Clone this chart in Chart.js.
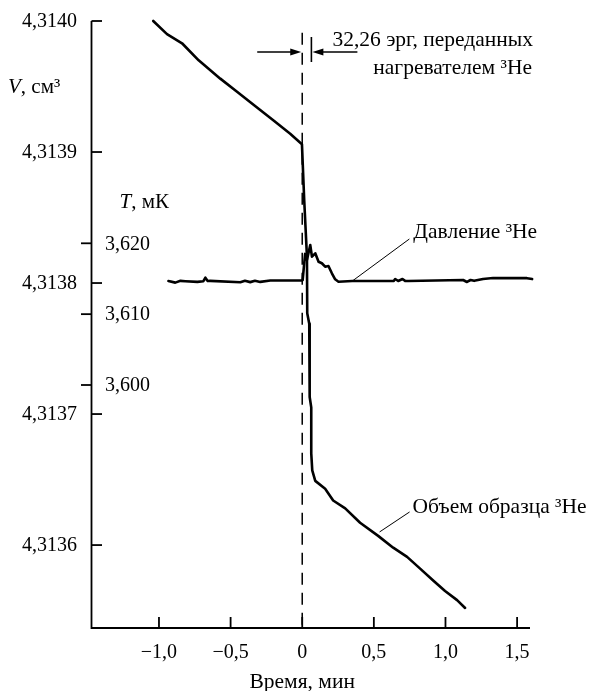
<!DOCTYPE html>
<html lang="ru">
<head>
<meta charset="utf-8">
<title>Объем образца и давление ³He</title>
<script src="https://cdn.jsdelivr.net/npm/chart.js@4.4.1/dist/chart.umd.min.js"></script>
<style>
    html, body { margin: 0; padding: 0; background: #fff; }
    #wrap { width: 599px; height: 691px; }
</style>
</head>
<body>
<div id="wrap"><canvas id="chart" width="599" height="691"></canvas></div>
<script>
/* DATA */

// sample volume, cm^3
const timeVolume = [-1.04, -0.944, -0.839, -0.723, -0.572, -0.455, -0.340, -0.200, -0.084, -0.002,
    0.014, 0.033, 0.035, 0.049, 0.052, 0.063, 0.063, 0.070, 0.091, 0.160, 0.216, 0.300,
    0.404, 0.530, 0.635, 0.732, 0.823, 0.914, 0.997, 1.081, 1.137]
const volume = [4.314000, 4.313990, 4.313983, 4.313970, 4.313956, 4.313946, 4.313936, 4.313924, 4.313914, 4.313906,
    4.313863, 4.313820, 4.313777, 4.313769, 4.313713, 4.313705, 4.313670, 4.313657, 4.313649, 4.313643, 4.313634, 4.313628,
    4.313617, 4.313607, 4.313598, 4.313591, 4.313582, 4.313573, 4.313565, 4.313558, 4.313552]

// 3He pressure, expressed as temperature, mK
const timePressure = [-0.934, -0.886, -0.85, -0.816, -0.732, -0.69, -0.676, -0.66, -0.642, -0.432, -0.40, -0.363,
    -0.33, -0.293, -0.223, -0.003, 0.003, 0.02, 0.033, 0.056, 0.068, 0.091, 0.114, 0.137, 0.160, 0.183,
    0.207, 0.230, 0.253, 0.349, 0.640, 0.649, 0.670, 0.700, 0.718, 0.740, 1.123, 1.150, 1.175, 1.20,
    1.262, 1.332, 1.569, 1.605, 1.639]
const pressureT = [3.61468, 3.61445, 3.61470, 3.61465, 3.61455, 3.61465, 3.61514, 3.61468, 3.61470, 3.61450, 3.61470, 3.61452,
    3.61470, 3.61455, 3.61475, 3.61475, 3.61480, 3.61850, 3.61764, 3.61976, 3.61811, 3.61859, 3.61740, 3.61718, 3.61670, 3.61680,
    3.61577, 3.61492, 3.61458, 3.61468, 3.61470, 3.61496, 3.61468, 3.61496, 3.61470, 3.61468, 3.61482, 3.61454, 3.61482, 3.61470,
    3.61496, 3.61510, 3.61508, 3.61495, 3.61482]

const vTicks = [4.3140, 4.3139, 4.3138, 4.3137, 4.3136]
const vTickLabels = ['4,3140', '4,3139', '4,3138', '4,3137', '4,3136']
const tTicks = [3.620, 3.610, 3.600]
const tTickLabels = ['3,620', '3,610', '3,600']
const xTicks = [-1, -0.5, 0, 0.5, 1, 1.5]
const xTickLabels = ['\u22121,0', '\u22120,5', '0', '0,5', '1,0', '1,5']

const pulse = [0, 0.064]          // heater on / off, min
const markerTop = 4.313991        // top of the dashed marker, cm^3
const pressureLabelAt = [0.35, 3.61468]
const volumeLabelAt = [0.54, 4.313610]

/* STYLE */

const INK = '#000'
const FONT = '"Liberation Serif", "Times New Roman", serif'
const WORDS = `21.5px ${FONT}`

function arrow(ctx, fromX, toX, y) {
    const dir = Math.sign(toX - fromX)
    ctx.beginPath()
    ctx.moveTo(fromX, y)
    ctx.lineTo(toX - dir * 6, y)
    ctx.stroke()
    ctx.beginPath()
    ctx.moveTo(toX, y)
    ctx.lineTo(toX - dir * 11, y - 3.5)
    ctx.lineTo(toX - dir * 11, y + 3.5)
    ctx.closePath()
    ctx.fill()
}

// draws "V, см³" style labels: italic letter + upright rest
function symbolLabel(ctx, sym, rest, x, y) {
    ctx.textAlign = 'left'
    ctx.font = `italic 21px ${FONT}`
    ctx.fillText(sym, x, y)
    const w = ctx.measureText(sym).width
    ctx.font = `21px ${FONT}`
    ctx.fillText(rest, x + w, y)
}

const paperAxes = {
    id: 'paperAxes',
    afterDraw(chart) {
        const { ctx, chartArea: a, scales } = chart
        const sx = scales.x, sv = scales.yV, st = scales.yT
        ctx.save()
        ctx.strokeStyle = INK
        ctx.fillStyle = INK
        ctx.lineCap = 'butt'

        // axis lines
        ctx.lineWidth = 1.8
        ctx.beginPath()
        ctx.moveTo(a.left, a.top)
        ctx.lineTo(a.left, a.bottom)
        ctx.lineTo(a.right, a.bottom)
        ctx.stroke()

        ctx.font = `20px ${FONT}`
        ctx.textBaseline = 'middle'

        // V ticks point inwards
        vTicks.forEach((v, i) => {
            const y = sv.getPixelForValue(v)
            ctx.beginPath()
            ctx.moveTo(a.left, y)
            ctx.lineTo(a.left + 10.5, y)
            ctx.stroke()
            ctx.textAlign = 'right'
            ctx.fillText(vTickLabels[i], 77, y + 1)
        })

        // T ticks point outwards, labels inside
        tTicks.forEach((t, i) => {
            const y = st.getPixelForValue(t)
            ctx.beginPath()
            ctx.moveTo(a.left - 10.5, y)
            ctx.lineTo(a.left, y)
            ctx.stroke()
            ctx.textAlign = 'left'
            ctx.fillText(tTickLabels[i], a.left + 13.5, y + 1)
        })

        // time ticks point up
        xTicks.forEach((t, i) => {
            const x = sx.getPixelForValue(t)
            ctx.beginPath()
            ctx.moveTo(x, a.bottom)
            ctx.lineTo(x, a.bottom - 11)
            ctx.stroke()
            ctx.textAlign = 'center'
            ctx.fillText(xTickLabels[i], x, a.bottom + 25)
        })

        // axis titles
        ctx.font = WORDS
        ctx.textAlign = 'center'
        ctx.fillText('Время, мин', sx.getPixelForValue(0), a.bottom + 54)
        symbolLabel(ctx, 'V', ', см³', 8, 87)
        symbolLabel(ctx, 'T', ', мК', a.left + 28, 202)

        // heater pulse annotation
        const x0 = sx.getPixelForValue(pulse[0])
        const x1 = sx.getPixelForValue(pulse[1])
        ctx.lineWidth = 1.6
        ctx.beginPath()
        ctx.moveTo(x1, 37)
        ctx.lineTo(x1, 62)
        ctx.stroke()
        arrow(ctx, x0 - 45, x0 - 1, 52)
        arrow(ctx, x1 + 46, x1 + 1, 52)
        ctx.textAlign = 'right'
        ctx.font = WORDS
        ctx.fillText('32,26 эрг, переданных', 533, 40)
        ctx.fillText('нагревателем ³He', 532, 68)

        // curve labels with leader lines
        ctx.lineWidth = 1
        const px = sx.getPixelForValue(pressureLabelAt[0])
        const py = st.getPixelForValue(pressureLabelAt[1])
        ctx.beginPath()
        ctx.moveTo(px, py)
        ctx.lineTo(px + 57, py - 42)
        ctx.stroke()
        ctx.textAlign = 'left'
        ctx.fillText('Давление ³He', px + 61, py - 49)

        const vx = sx.getPixelForValue(volumeLabelAt[0])
        const vy = sv.getPixelForValue(volumeLabelAt[1])
        ctx.beginPath()
        ctx.moveTo(vx, vy)
        ctx.lineTo(vx + 30, vy - 20)
        ctx.stroke()
        ctx.fillText('Объем образца ³He', vx + 33, vy - 25)

        ctx.restore()
    }
}

function series(xs, ys) {
    return xs.map((x, i) => ({ x, y: ys[i] }))
}

const lineStyle = {
    borderColor: INK,
    borderWidth: 2.6,
    pointRadius: 0,
    tension: 0,
    borderJoinStyle: 'round',
    borderCapStyle: 'round',
    clip: false
}

new Chart(document.getElementById('chart'), {
    type: 'line',
    data: {
        datasets: [
            { ...lineStyle, label: 'Объем образца ³He', yAxisID: 'yV', data: series(timeVolume, volume) },
            { ...lineStyle, label: 'Давление ³He', yAxisID: 'yT', data: series(timePressure, pressureT) },
            {
                ...lineStyle,
                label: 'импульс нагрева',
                yAxisID: 'yV',
                borderWidth: 1.5,
                borderCapStyle: 'butt',
                borderDash: [12, 8],
                data: [{ x: pulse[0], y: markerTop }, { x: pulse[0], y: 4.3135367 }]
            }
        ]
    },
    options: {
        responsive: false,
        animation: false,
        devicePixelRatio: 1,
        layout: { padding: { left: 91.5, right: 69, top: 21, bottom: 63 } },
        plugins: { legend: { display: false }, tooltip: { enabled: false } },
        scales: {
            x: { type: 'linear', min: -1.471, max: 1.59, display: false },
            yV: { type: 'linear', position: 'left', min: 4.3135367, max: 4.3140, display: false },
            yT: { type: 'linear', position: 'left', min: 3.565702, max: 3.651376, display: false }
        }
    },
    plugins: [paperAxes]
})
</script>
</body>
</html>
